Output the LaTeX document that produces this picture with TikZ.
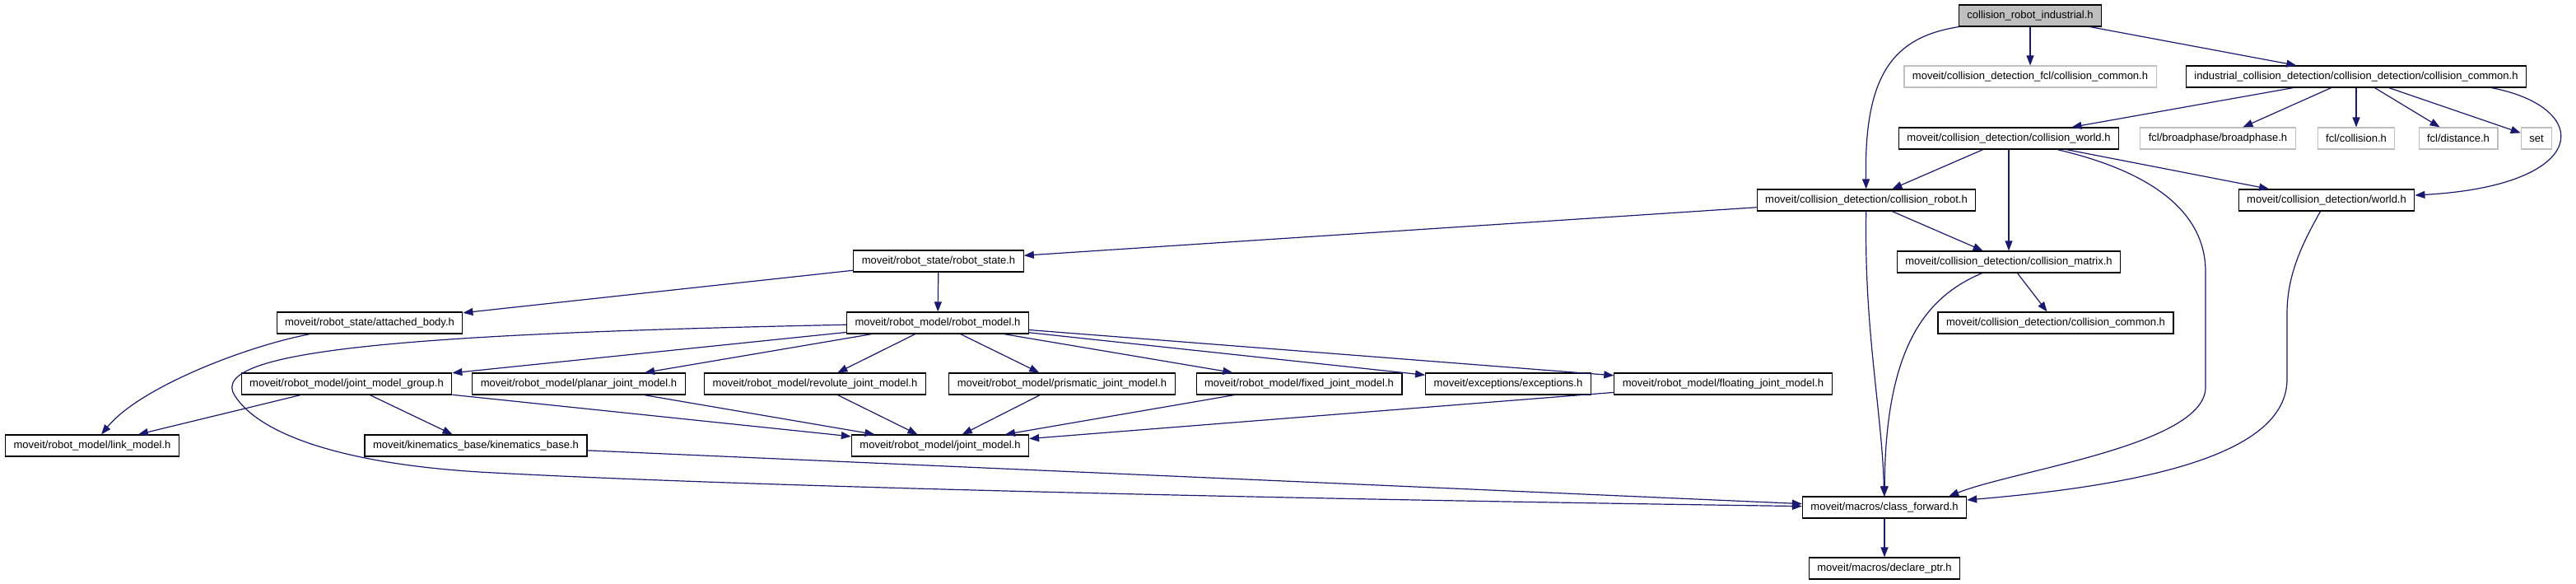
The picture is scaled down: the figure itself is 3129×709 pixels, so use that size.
\documentclass[tikz,border=0pt]{standalone}
\usepackage{fontspec}
\setmainfont{Liberation Sans}
\usetikzlibrary{arrows.meta}
\definecolor{edgeblue}{HTML}{191970}
\definecolor{grey75}{HTML}{BFBFBF}

\begin{document}
\begin{tikzpicture}[x=1pt, y=-1pt,
    hdr/.style={draw=black, line width=1.2pt, fill=white, minimum height=26pt,
                inner xsep=10pt, inner ysep=0pt, font=\fontsize{13}{15}\selectfont},
    ext/.style={hdr, draw=grey75},
    rootfile/.style={hdr, fill=grey75},
    inc/.style={draw=edgeblue, line width=1.2pt, -{Triangle[length=12pt, width=9pt]}}
  ]
  \useasboundingbox (0,0) rectangle (3129,709);

  % Dateien
  \node[rootfile] (root)      at (2466,19)  {collision\_robot\_industrial.h};
  \node[ext] (fclcommon)      at (2466,93)  {moveit/collision\_detection\_fcl/collision\_common.h};
  \node[hdr] (indcommon)      at (2862,93)  {industrial\_collision\_detection/collision\_detection/collision\_common.h};
  \node[hdr] (cworld)         at (2440,168) {moveit/collision\_detection/collision\_world.h};
  \node[ext] (bphase)         at (2694,168) {fcl/broadphase/broadphase.h};
  \node[ext] (fclcoll)        at (2862,168) {fcl/collision.h};
  \node[ext] (fcldist)        at (2986,168) {fcl/distance.h};
  \node[ext] (stdset)         at (3081,168) {set};
  \node[hdr] (crobot)         at (2267,243) {moveit/collision\_detection/collision\_robot.h};
  \node[hdr] (worldh)         at (2826,243) {moveit/collision\_detection/world.h};
  \node[hdr] (rstate)         at (1140,317) {moveit/robot\_state/robot\_state.h};
  \node[hdr] (cmatrix)        at (2440,318) {moveit/collision\_detection/collision\_matrix.h};
  \node[hdr] (attached)       at (449,392)  {moveit/robot\_state/attached\_body.h};
  \node[hdr] (rmodel)         at (1139,392) {moveit/robot\_model/robot\_model.h};
  \node[hdr] (ccommon)        at (2497,392) {moveit/collision\_detection/collision\_common.h};
  \node[hdr] (jmgroup)        at (421,466)  {moveit/robot\_model/joint\_model\_group.h};
  \node[hdr] (planar)         at (703,466)  {moveit/robot\_model/planar\_joint\_model.h};
  \node[hdr] (revolute)       at (990,466)  {moveit/robot\_model/revolute\_joint\_model.h};
  \node[hdr] (prismatic)      at (1290,466) {moveit/robot\_model/prismatic\_joint\_model.h};
  \node[hdr] (fixed)          at (1578,466) {moveit/robot\_model/fixed\_joint\_model.h};
  \node[hdr] (exceptions)     at (1832,466) {moveit/exceptions/exceptions.h};
  \node[hdr] (floating)       at (2093,466) {moveit/robot\_model/floating\_joint\_model.h};
  \node[hdr] (linkmodel)      at (112,541)  {moveit/robot\_model/link\_model.h};
  \node[hdr] (kinbase)        at (578,541)  {moveit/kinematics\_base/kinematics\_base.h};
  \node[hdr] (jmodel)         at (1142,541) {moveit/robot\_model/joint\_model.h};
  \node[hdr] (classfwd)       at (2289,616) {moveit/macros/class\_forward.h};
  \node[hdr] (declptr)        at (2289,690) {moveit/macros/declare\_ptr.h};

  % Includes
  \draw[inc] (root) .. controls (2300,45) and (2264,90) .. (crobot);
  \draw[inc] (root) -- (fclcommon);
  \draw[inc] (root) -- (indcommon);
  \draw[inc] (indcommon) -- (cworld);
  \draw[inc] (indcommon) -- (bphase);
  \draw[inc] (indcommon) -- (fclcoll);
  \draw[inc] (indcommon) -- (fcldist);
  \draw[inc] (indcommon) -- (stdset);
  \draw[inc] ([xshift=-43pt]indcommon.south east) .. controls (3150,130) and (3150,225) .. (worldh);
  \draw[inc] (cworld) -- (crobot);
  \draw[inc] (cworld) -- (cmatrix);
  \draw[inc] (cworld) -- (worldh);
  \draw[inc] (cworld) .. controls (2600,205) and (2679,250) .. (2679,330) -- (2679,470)
             .. controls (2679,540) and (2450,570) .. ([xshift=-22pt]classfwd.north east);
  \draw[inc] (crobot) -- (rstate);
  \draw[inc] (crobot) -- (cmatrix);
  \draw[inc] (crobot) .. controls (2264,400) and (2286,500) .. (classfwd);
  \draw[inc] (worldh) .. controls (2800,290) and (2778,330) .. (2778,380) -- (2778,460)
             .. controls (2778,540) and (2650,585) .. ([yshift=9pt]classfwd.east);
  \draw[inc] (cmatrix) -- (ccommon);
  \draw[inc] (cmatrix) .. controls (2340,360) and (2290,420) .. (classfwd);
  \draw[inc] (rstate) -- (attached);
  \draw[inc] (rstate) -- (rmodel);
  \draw[inc] (attached) .. controls (300,420) and (170,470) .. (linkmodel);
  \foreach \dst in {jmgroup, planar, revolute, prismatic, fixed, exceptions, floating}
    \draw[inc] (rmodel) -- (\dst);
  \draw[inc] (rmodel) .. controls (500,405) and (250,425) .. (285,480)
             .. controls (315,528) and (420,565) .. (600,574)
             .. controls (900,590) and (1500,605) .. (classfwd);
  \draw[inc] (jmgroup) -- (linkmodel);
  \draw[inc] (jmgroup) -- (kinbase);
  \draw[inc] (jmgroup) -- (jmodel);
  \foreach \src in {planar, revolute, prismatic, fixed, floating}
    \draw[inc] (\src) -- (jmodel);
  \draw[inc] (kinbase) -- (classfwd);
  \draw[inc] (classfwd) -- (declptr);
\end{tikzpicture}
\end{document}
